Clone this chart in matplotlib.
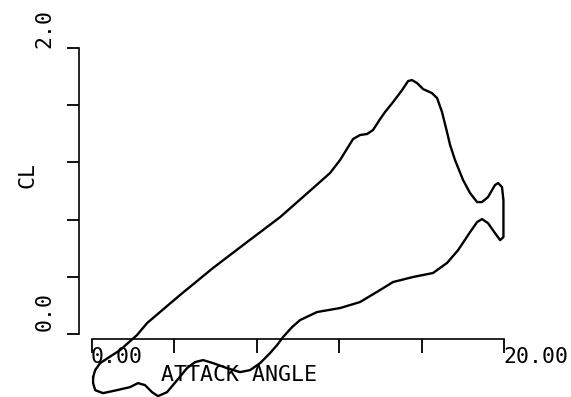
import matplotlib
matplotlib.use("Agg")
import matplotlib.pyplot as plt

# Hysteresis loop of lift coefficient vs attack angle (closed path)
alpha = [0.05, 0.15, 0.39, 1.36, 2.18, 2.67, 4.27, 5.87, 7.52, 9.13, 10.73,
         11.55, 12.04, 12.43, 12.67, 13.01, 13.35, 13.64, 13.98, 14.22, 14.61,
         15.05, 15.34, 15.53, 15.78, 16.07, 16.50, 16.75, 16.99, 17.23, 17.38,
         17.62, 18.01, 18.35, 18.69, 18.93, 19.22, 19.56, 19.71, 19.90, 19.97,
         19.97, 19.97, 19.81, 19.56, 19.22, 18.93, 18.69, 18.35, 17.77, 17.23,
         16.55, 15.58, 14.61, 13.98, 13.01, 12.04, 10.92, 10.10, 9.71, 9.27,
         8.98, 8.64, 8.16, 7.67, 7.18, 6.55, 5.87, 5.39, 5.00, 4.61, 4.13,
         3.64, 3.20, 2.91, 2.57, 2.23, 1.84, 1.21, 0.53, 0.15, 0.05]
cl = [-0.301, -0.252, -0.203, -0.112, -0.007, 0.077, 0.273, 0.462, 0.643,
      0.818, 1.021, 1.126, 1.217, 1.308, 1.364, 1.392, 1.399, 1.427, 1.503,
      1.552, 1.622, 1.706, 1.769, 1.776, 1.755, 1.713, 1.685, 1.650, 1.552,
      1.413, 1.322, 1.217, 1.077, 0.986, 0.923, 0.923, 0.958, 1.042, 1.056,
      1.028, 0.937, 0.797, 0.678, 0.657, 0.706, 0.776, 0.804, 0.783, 0.713,
      0.587, 0.497, 0.427, 0.399, 0.364, 0.308, 0.224, 0.182, 0.154, 0.098,
      0.049, -0.021, -0.077, -0.133, -0.203, -0.252, -0.266, -0.238, -0.203,
      -0.182, -0.196, -0.238, -0.322, -0.406, -0.434, -0.406, -0.357, -0.343,
      -0.371, -0.392, -0.413, -0.392, -0.343]

x_ticks = [0, 4, 8, 12, 16, 20]
y_ticks = [0.0, 0.4, 0.8, 1.2, 1.6, 2.0]
x_labels = ["0.00", "20.00"]
y_labels = ["0.0", "2.0"]
x_title = "ATTACK ANGLE"
y_title = "CL"

fig = plt.figure(figsize=(5.71, 3.97), dpi=100)
ax = fig.add_axes([0, 0, 1, 1])
ax.set_xlim(-4.47, 23.25)
ax.set_ylim(-0.44, 2.336)

ax.plot(alpha + [alpha[0]], cl + [cl[0]], color="black", lw=1.7,
        solid_joinstyle="round", solid_capstyle="round")

for s in ["top", "right"]:
    ax.spines[s].set_visible(False)
ax.spines["left"].set_position(("data", -0.63))
ax.spines["left"].set_bounds(0, 2.0)
ax.spines["bottom"].set_position(("data", -0.035))
ax.spines["bottom"].set_bounds(0, 20)
for s in ["left", "bottom"]:
    ax.spines[s].set_linewidth(1.2)

ax.set_xticks(x_ticks)
ax.set_yticks(y_ticks)
ax.set_xticklabels([])
ax.set_yticklabels([])
ax.tick_params(axis="x", direction="out", length=10, width=1.3)
ax.tick_params(axis="y", direction="out", length=9, width=1.3)

font = dict(family="DejaVu Sans Mono", fontsize=15.5, color="black")
# tick labels
ax.text(x_ticks[0] - 0.05, -0.09, x_labels[0], ha="left", va="top", **font)
ax.text(x_ticks[-1] - 0.05, -0.09, x_labels[1], ha="left", va="top", **font)
ax.text(-2.3, y_ticks[0] + 0.155, y_labels[0], ha="center", va="center",
        rotation=90, **font)
ax.text(-2.3, y_ticks[-1] + 0.14, y_labels[1], ha="center", va="center",
        rotation=90, **font)
# axis titles
ax.text(7.15, -0.288, x_title, ha="center", va="center", **font)
ax.text(-3.15, 1.115, y_title, ha="center", va="center", rotation=90, **font)

fig.savefig("out.png", dpi=100)
